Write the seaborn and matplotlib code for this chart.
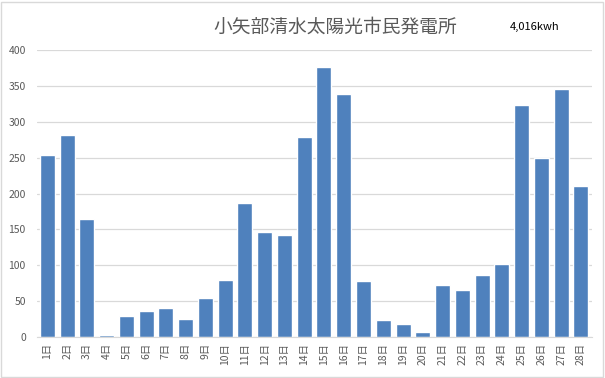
import matplotlib
matplotlib.use("Agg")
import matplotlib.pyplot as plt
import seaborn as sns
import pandas as pd

days = [f"{i}日" for i in range(1, 29)]
kwh = [253, 281, 165, 3, 29, 37, 40, 26, 55, 80, 187, 146, 142, 279,
       376, 338, 78, 24, 18, 7, 72, 65, 86, 102, 323, 250, 346, 210]
title = "小矢部清水太陽光市民発電所"
total_label = "4,016kwh"
yticks = [0, 50, 100, 150, 200, 250, 300, 350, 400]

sns.set_style("white")
plt.rcParams["font.family"] = ["Noto Sans CJK JP", "DejaVu Sans"]

df = pd.DataFrame({"day": days, "kwh": kwh})

fig = plt.figure(figsize=(6.05, 3.78), dpi=100)
ax = fig.add_axes([0.061, 0.108, 0.918, 0.76])

sns.barplot(data=df, x="day", y="kwh", color="#4f81bd", saturation=1,
            width=0.76, ax=ax)

ax.set_ylim(0, 400)
ax.set_xlim(-0.53, 27.58)
ax.set_yticks(yticks)
ax.grid(axis="y", color="#d9d9d9", linewidth=0.9)
ax.set_axisbelow(True)
for s in ["top", "right", "left"]:
    ax.spines[s].set_visible(False)
ax.spines["bottom"].set_color("#d9d9d9")
ax.set_xlabel("")
ax.set_ylabel("")
ax.tick_params(axis="y", length=0, labelsize=7.5, labelcolor="#595959", pad=8)
ax.tick_params(axis="x", length=0, labelsize=7.5, labelcolor="#595959",
               rotation=90, pad=4)

fig.text(0.554, 0.928, title, ha="center", va="center", fontsize=13.5,
         color="#595959")
fig.text(0.884, 0.928, total_label, ha="center", va="center", fontsize=8,
         color="black")

fig.patches.append(plt.Rectangle((0.002, 0.003), 0.995, 0.993,
                                 transform=fig.transFigure, fill=False,
                                 edgecolor="#d9d9d9", linewidth=1))

fig.savefig("out.png", dpi=100)
